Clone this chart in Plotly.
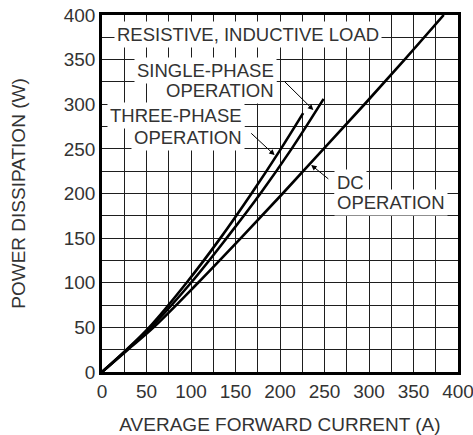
import plotly.graph_objects as go

# Data
three_phase_current = [0, 27.5, 53, 95, 133, 168, 201, 226]
three_phase_power = [0, 25, 50, 100, 150, 200, 250, 290]

single_phase_current = [0, 28, 55, 100, 140, 178, 213, 249]
single_phase_power = [0, 25, 50, 100, 150, 200, 250, 306]

dc_current = [0, 29, 58, 108, 156, 203, 249, 295, 340, 384]
dc_power = [0, 25, 50, 100, 150, 200, 250, 300, 350, 400]

x_title = "AVERAGE FORWARD CURRENT (A)"
y_title = "POWER DISSIPATION (W)"

FONT = "Liberation Sans, Arial, Helvetica, sans-serif"
TXT = "#333333"

fig = go.Figure()
for cur, pw, name in [
    (three_phase_current, three_phase_power, "Three-phase"),
    (single_phase_current, single_phase_power, "Single-phase"),
    (dc_current, dc_power, "DC"),
]:
    fig.add_trace(go.Scatter(x=cur, y=pw, mode="lines", name=name,
                             line=dict(color="black", width=2.6, shape="spline", smoothing=1.0)))

grid = "#1e1e1e"
axis_common = dict(
    range=[0, 400], dtick=50, tick0=0, showgrid=True, gridcolor=grid, gridwidth=1,
    minor=dict(dtick=25, tick0=0, showgrid=True, gridcolor=grid, gridwidth=1),
    showline=True, linecolor="black", linewidth=2.6, mirror=True, ticks="",
    zeroline=False, tickfont=dict(family=FONT, size=19, color=TXT),
    fixedrange=True, automargin=False, ticklabeloverflow="allow",
)
fig.update_xaxes(**axis_common, title=dict(text=x_title, font=dict(family=FONT, size=19, color=TXT), standoff=22))
fig.update_yaxes(**axis_common, title=dict(text=y_title, font=dict(family=FONT, size=19, color=TXT), standoff=34))

def label(text, x, y, xanchor):
    fig.add_annotation(x=x, y=y, xref="x", yref="y", text=text, showarrow=False,
                       xanchor=xanchor, yanchor="middle", bgcolor="white", borderpad=2,
                       font=dict(family=FONT, size=18.5, color=TXT))

label("RESISTIVE, INDUCTIVE LOAD", 163.5, 378, "center")
label("SINGLE-PHASE", 197, 338, "right")
label("OPERATION", 197, 315.5, "right")
label("THREE-PHASE", 161, 287.5, "right")
label("OPERATION", 161, 263, "right")
label("DC", 261, 212.5, "left")
label("OPERATION", 261, 190, "left")

def leader(x0, y0, x1, y1):
    fig.add_annotation(x=x1, y=y1, ax=x0, ay=y0, xref="x", yref="y", axref="x", ayref="y",
                       text="", showarrow=True, arrowhead=2, arrowsize=1.1, arrowwidth=1,
                       arrowcolor="black", standoff=0, startstandoff=0)

leader(203.5, 327, 237.5, 293.5)
leader(166, 269, 194, 243)
leader(256, 215, 235, 232)

fig.update_layout(width=473, height=435, margin=dict(l=102, r=15, t=15, b=63),
                  plot_bgcolor="white", paper_bgcolor="white", showlegend=False)

fig.write_html("out.html")
